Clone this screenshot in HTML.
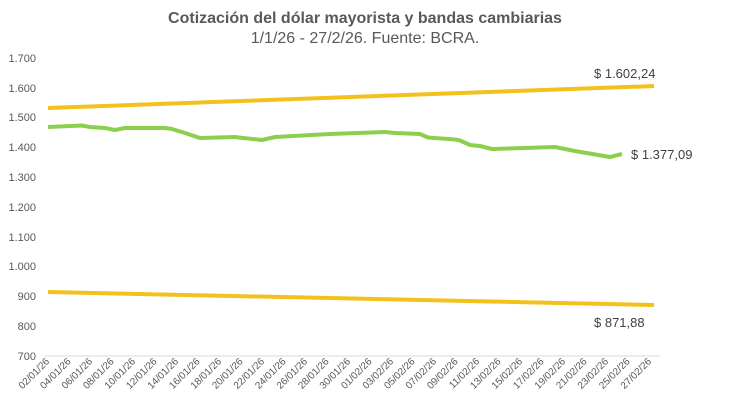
<!DOCTYPE html>
<html><head><meta charset="utf-8"><style>
body{margin:0;background:#fff;width:730px;height:405px;overflow:hidden;font-family:"Liberation Sans",sans-serif}
</style></head><body>
<svg width="730" height="405" xmlns="http://www.w3.org/2000/svg" font-family="Liberation Sans, sans-serif">
<text x="365" y="23" text-anchor="middle" font-size="16" font-weight="bold" fill="#595959">Cotización del dólar mayorista y bandas cambiarias</text>
<text x="365" y="43" text-anchor="middle" font-size="16" fill="#595959">1/1/26 - 27/2/26. Fuente: BCRA.</text>
<g font-size="11" fill="#595959" text-anchor="end">
<text x="36" y="62">1.700</text><text x="36" y="92">1.600</text><text x="36" y="121">1.500</text>
<text x="36" y="151">1.400</text><text x="36" y="181">1.300</text><text x="36" y="211">1.200</text>
<text x="36" y="241">1.100</text><text x="36" y="270">1.000</text><text x="36" y="300">900</text>
<text x="36" y="330">800</text><text x="36" y="360">700</text>
</g>
<line x1="44" y1="356" x2="660" y2="356" stroke="#d9d9d9" stroke-width="1"/>
<polyline fill="none" stroke="#f4c01c" stroke-width="4" points="48,108 654,86"/>
<polyline fill="none" stroke="#f4c01c" stroke-width="4" points="48,292 654,305"/>
<polyline fill="none" stroke="#8ccf4d" stroke-width="4" stroke-linejoin="round" points="48,127 82,125.5 90,127 105,128 115,130 125,128 165,128 172,129 185,133 200,138 235,137 243,138 262,140 275,137 330,134 385,132 395,133 420,134 428,137.5 455,139.5 460,140.5 470,145 480,146 492,149 555,147 575,151 610,157 622,154"/>
<g font-size="13" fill="#404040">
<text x="594" y="78">$ 1.602,24</text>
<text x="631" y="159">$ 1.377,09</text>
<text x="594" y="327">$ 871,88</text>
</g>
<g font-size="10" fill="#595959" text-anchor="end">
<text transform="translate(50,362) rotate(-45)">02/01/26</text>
<text transform="translate(71.5,362) rotate(-45)">04/01/26</text>
<text transform="translate(93,362) rotate(-45)">06/01/26</text>
<text transform="translate(114.5,362) rotate(-45)">08/01/26</text>
<text transform="translate(136,362) rotate(-45)">10/01/26</text>
<text transform="translate(157.5,362) rotate(-45)">12/01/26</text>
<text transform="translate(179,362) rotate(-45)">14/01/26</text>
<text transform="translate(200.5,362) rotate(-45)">16/01/26</text>
<text transform="translate(222,362) rotate(-45)">18/01/26</text>
<text transform="translate(243.5,362) rotate(-45)">20/01/26</text>
<text transform="translate(265,362) rotate(-45)">22/01/26</text>
<text transform="translate(286.5,362) rotate(-45)">24/01/26</text>
<text transform="translate(308,362) rotate(-45)">26/01/26</text>
<text transform="translate(329.5,362) rotate(-45)">28/01/26</text>
<text transform="translate(351,362) rotate(-45)">30/01/26</text>
<text transform="translate(372.5,362) rotate(-45)">01/02/26</text>
<text transform="translate(394,362) rotate(-45)">03/02/26</text>
<text transform="translate(415.5,362) rotate(-45)">05/02/26</text>
<text transform="translate(437,362) rotate(-45)">07/02/26</text>
<text transform="translate(458.5,362) rotate(-45)">09/02/26</text>
<text transform="translate(480,362) rotate(-45)">11/02/26</text>
<text transform="translate(501.5,362) rotate(-45)">13/02/26</text>
<text transform="translate(523,362) rotate(-45)">15/02/26</text>
<text transform="translate(544.5,362) rotate(-45)">17/02/26</text>
<text transform="translate(566,362) rotate(-45)">19/02/26</text>
<text transform="translate(587.5,362) rotate(-45)">21/02/26</text>
<text transform="translate(609,362) rotate(-45)">23/02/26</text>
<text transform="translate(630.5,362) rotate(-45)">25/02/26</text>
<text transform="translate(652,362) rotate(-45)">27/02/26</text>
</g>
</svg>
</body></html>
